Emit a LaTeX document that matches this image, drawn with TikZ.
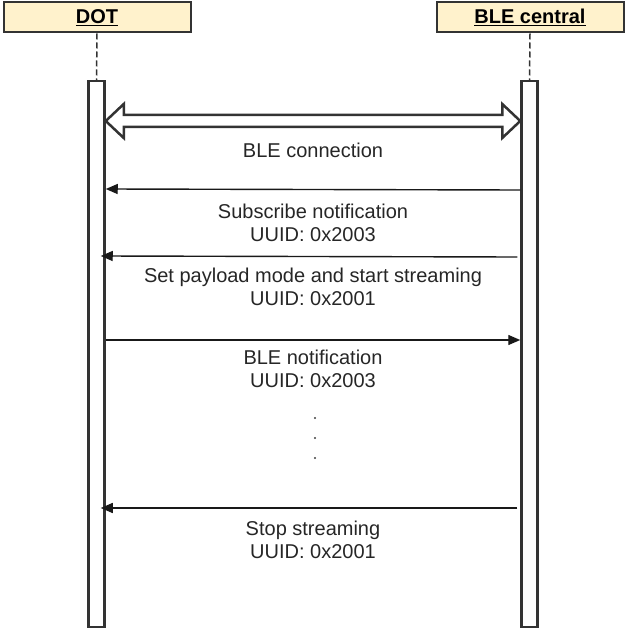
\documentclass[tikz,border=0pt]{standalone}
\usepackage{fontspec}
\setmainfont{Liberation Sans}
\usepackage{tikz}
\usetikzlibrary{arrows.meta}
\definecolor{headfill}{HTML}{FFF2CC}
\definecolor{linegray}{HTML}{333333}

\tikzset{
  head/.style={draw=linegray,line width=2pt,fill=headfill,minimum width=187pt,minimum height=30pt,inner sep=0pt,
    font=\fontsize{20}{24}\selectfont\bfseries},
  lifebar/.style={draw=linegray,line width=2.5pt,fill=white,minimum width=16pt,minimum height=546pt,inner sep=0pt,anchor=north},
  msg/.style={black!90,line width=1.4pt,-{Triangle[length=12pt,width=10pt]}},
  msgtext/.style={align=center,text=black!85,font=\fontsize{20}{23}\selectfont}
}

\begin{document}
\begin{tikzpicture}[x=1pt,y=-1pt]
\useasboundingbox (0,0) rectangle (624,628);
% participants
\node[head] (dot) at (97,17.5) {\underline{DOT}};
\node[head] (ble) at (530,17.5) {\underline{BLE central}};
\node[lifebar] (dotbar) at (96.5,80) {};
\node[lifebar] (blebar) at (529.5,80) {};
\draw[linegray,line width=1.5pt,dash pattern=on 6pt off 3pt] (dot.south) -- (dotbar.north);
\draw[linegray,line width=1.5pt,dash pattern=on 6pt off 3pt] (ble.south) -- (blebar.north);

% connection
\draw[linegray,line width=2.5pt,line join=miter]
  (dotbar.east |- 0,121) -- ++(18,-17) -- ++(0,11) -- ([xshift=-18pt]blebar.west |- 0,115)
  -- ++(0,-11) -- (blebar.west |- 0,121) -- ++(-18,17) -- ++(0,-11)
  -- ([xshift=18pt]dotbar.east |- 0,127) -- ++(0,11) -- cycle;
\node[msgtext] (conn) at (313,150) {BLE connection};

% messages
\draw[msg] (blebar.west |- 0,190) -- (dotbar.east |- 0,189);
\node[msgtext] (sub) at (313,222.5) {Subscribe notification\\UUID: 0x2003};
\draw[msg] ([xshift=-3pt]blebar.west |- 0,257) -- ([xshift=-5pt]dotbar.east |- 0,256);
\node[msgtext] (pay) at (313,287) {Set payload mode and start streaming\\UUID: 0x2001};
\draw[msg] (dotbar.east |- 0,340) -- (blebar.west |- 0,340);
\node[msgtext] (notif) at (313,369) {BLE notification\\UUID: 0x2003};
\foreach \y in {418,438,458}
  \fill[black!75] (315,\y) circle (1.1);
\draw[msg] ([xshift=-3pt]blebar.west |- 0,508) -- ([xshift=-5pt]dotbar.east |- 0,508);
\node[msgtext] (stop) at (313,539.5) {Stop streaming\\UUID: 0x2001};
\end{tikzpicture}
\end{document}
